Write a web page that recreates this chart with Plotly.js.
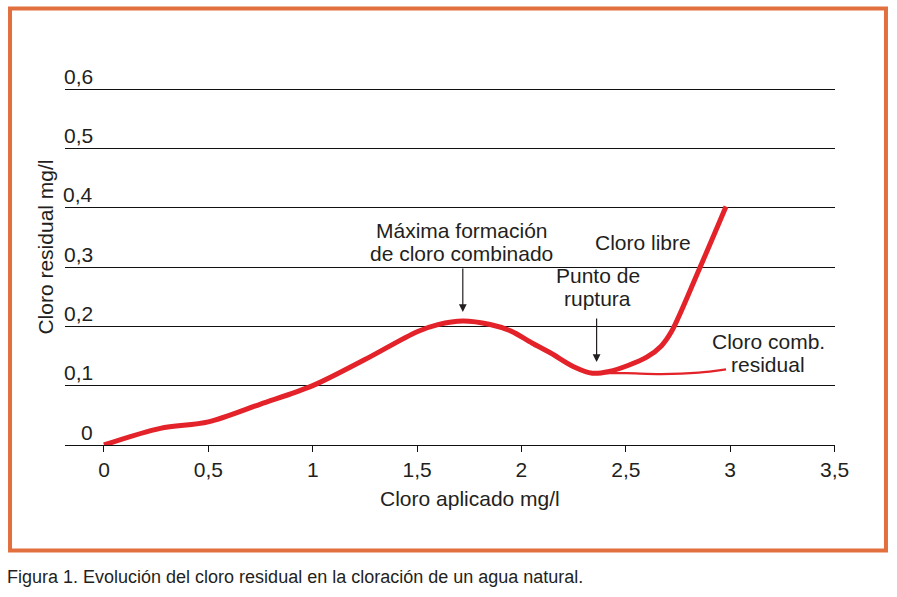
<!DOCTYPE html>
<html>
<head>
<meta charset="utf-8">
<script src="https://cdn.plot.ly/plotly-3.0.1.min.js"></script>
<style>
html,body{margin:0;padding:0;background:#fff;}
#chart{width:897px;height:597px;}
</style>
</head>
<body>
<div id="chart"></div>
<script>
// Data
var libreX = [0, 0.27, 0.5, 0.75, 1.0, 1.25, 1.5, 1.6, 1.72, 1.85, 1.95, 2.05, 2.14, 2.25, 2.34, 2.42, 2.51, 2.6, 2.67, 2.72, 2.85, 2.98];
var libreY = [0, 0.028, 0.039, 0.069, 0.100, 0.144, 0.191, 0.203, 0.209, 0.203, 0.192, 0.172, 0.155, 0.132, 0.121, 0.124, 0.134, 0.148, 0.167, 0.192, 0.295, 0.402];
var combX = [2.34, 2.5, 2.67, 2.85, 2.98];
var combY = [0.121, 0.121, 0.1195, 0.122, 0.1275];

var xTickVals = [0, 0.5, 1, 1.5, 2, 2.5, 3, 3.5];
var xTickText = ["0", "0,5", "1", "1,5", "2", "2,5", "3", "3,5"];
var yTickVals = [0, 0.1, 0.2, 0.3, 0.4, 0.5, 0.6];
var yTickText = ["0", "0,1", "0,2", "0,3", "0,4", "0,5", "0,6"];

var xTitle = "Cloro aplicado mg/l";
var yTitle = "Cloro residual mg/l";
var caption = "Figura 1. Evolución del cloro residual en la cloración de un agua natural.";

var FONT = '"Liberation Sans", Arial, Helvetica, sans-serif';
var TXT = '#231f20';
var RED = '#e3222a';
var FS = 21;

var traces = [
  {x: libreX, y: libreY, type: 'scatter', mode: 'lines',
   line: {color: RED, width: 5, shape: 'spline', smoothing: 0.9},
   cliponaxis: false, hoverinfo: 'skip'},
  {x: combX, y: combY, type: 'scatter', mode: 'lines',
   line: {color: RED, width: 2.2, shape: 'spline', smoothing: 0.8},
   cliponaxis: false, hoverinfo: 'skip'}
];

var annotations = [];
// y tick labels above gridlines
yTickVals.forEach(function(v, i){
  annotations.push({xref: 'paper', yref: 'y', x: 0, y: v, xanchor: 'right', yanchor: 'middle',
    xshift: 30, yshift: 13, text: yTickText[i], showarrow: false,
    font: {family: FONT, size: FS, color: TXT}});
});
// axis titles
annotations.push({xref: 'paper', yref: 'paper', x: 0.526, y: -0.15, xanchor: 'center', yanchor: 'middle',
  text: xTitle, showarrow: false, font: {family: FONT, size: FS, color: TXT}});
annotations.push({xref: 'paper', yref: 'paper', x: -0.0247, y: 0.5511, xanchor: 'center', yanchor: 'middle',
  text: yTitle, textangle: -90, showarrow: false, font: {family: FONT, size: FS, color: TXT}});
// caption
annotations.push({xref: 'paper', yref: 'paper', x: -0.0775, y: -0.3667, xanchor: 'left', yanchor: 'middle',
  text: caption, showarrow: false, font: {family: FONT, size: 18, color: TXT}});

// label lines
var labels = [
  {t: "Máxima formación", x: 1.714, y: 0.3624},
  {t: "de cloro combinado", x: 1.714, y: 0.3236},
  {t: "Cloro libre", x: 2.580, y: 0.3405},
  {t: "Punto de", x: 2.365, y: 0.2865},
  {t: "ruptura", x: 2.365, y: 0.2477},
  {t: "Cloro comb.", x: 3.183, y: 0.1753},
  {t: "residual", x: 3.183, y: 0.1365}
];
labels.forEach(function(l){
  annotations.push({xref: 'x', yref: 'y', x: l.x, y: l.y, xanchor: 'center', yanchor: 'middle',
    text: l.t, showarrow: false, font: {family: FONT, size: FS, color: TXT}});
});
// arrows
[[1.719, 0.224], [2.360, 0.140]].forEach(function(a){
  annotations.push({xref: 'x', yref: 'y', x: a[0], y: a[1], ax: 0, ay: -45, text: '',
    showarrow: true, arrowhead: 2, arrowsize: 1.3, arrowwidth: 1.2, arrowcolor: TXT, standoff: 0});
});

var layout = {
  width: 897, height: 597,
  margin: {l: 65, r: 62, t: 85, b: 152},
  paper_bgcolor: '#fff', plot_bgcolor: '#fff',
  showlegend: false,
  font: {family: FONT, color: TXT},
  xaxis: {range: [-0.1867, 3.502], tickmode: 'array', tickvals: xTickVals, ticktext: xTickText,
    ticks: 'outside', ticklen: 6, tickwidth: 1, tickcolor: '#111',
    showline: true, linecolor: '#111', linewidth: 1, showgrid: false, zeroline: false,
    tickfont: {family: FONT, size: FS, color: TXT}, fixedrange: true},
  yaxis: {range: [0, 0.6068], tickmode: 'array', tickvals: yTickVals, showticklabels: false,
    showgrid: true, gridcolor: '#111', gridwidth: 1, zeroline: false, showline: false,
    ticks: '', fixedrange: true},
  shapes: [
    {type: 'rect', xref: 'paper', yref: 'paper', x0: -0.0714, x1: 1.0662, y0: -0.2931, y1: 1.2125,
     line: {color: '#e2703f', width: 4}, fillcolor: 'rgba(0,0,0,0)', layer: 'below'}
  ],
  annotations: annotations
};

Plotly.newPlot('chart', traces, layout, {displayModeBar: false, staticPlot: true});
</script>
</body>
</html>
